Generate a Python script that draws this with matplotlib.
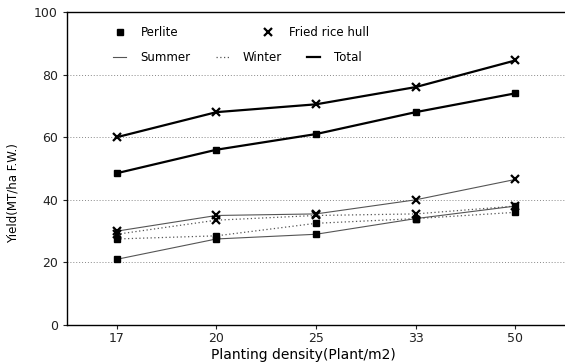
import numpy as np
import matplotlib
matplotlib.use("Agg")
import matplotlib.pyplot as plt
from matplotlib.lines import Line2D

# planting density categories
density = ["17", "20", "25", "33", "50"]

# yield (MT/ha F.W.)
frh_summer = [30, 35, 35.5, 40, 46.5]
frh_winter = [29, 33.5, 35, 35.5, 38]
frh_total = [60, 68, 70.5, 76, 84.5]
per_summer = [21, 27.5, 29, 34, 38]
per_winter = [27.5, 28.5, 32.5, 34, 36]
per_total = [48.5, 56, 61, 68, 74]

plt.rcParams["font.family"] = "DejaVu Sans"

fig = plt.figure(figsize=(5.65, 3.62), dpi=100)
ax = fig.add_axes([0.1186, 0.102, 0.8814, 0.865])
x = np.arange(1, len(density) + 1)

thin = dict(color="#555555", lw=0.8, ls="-")
dot = dict(color="#555555", lw=0.9, ls=(0, (1, 2)))
thick = dict(color="black", lw=1.6, ls="-")
sq = dict(marker="s", ms=5, mfc="black", mec="black")
xm = dict(marker="x", ms=6, mew=1.6, mec="black")

ax.plot(x, per_summer, **thin, **sq)
ax.plot(x, per_winter, **dot, **sq)
ax.plot(x, frh_summer, **thin, **xm)
ax.plot(x, frh_winter, **dot, **xm)
ax.plot(x, per_total, **thick, **sq)
ax.plot(x, frh_total, **thick, **xm)

ax.set_xlim(0.5, 5.5)
ax.set_ylim(0, 100)
ax.set_xticks(x)
ax.set_xticklabels(density)
ax.set_yticks(range(0, 101, 20))
for v in (20, 40, 60, 80):
    ax.axhline(v, color="#888888", lw=0.7, ls=(0, (1, 2)), zorder=0)

ax.spines["right"].set_visible(False)
for s in ("left", "bottom", "top"):
    ax.spines[s].set_linewidth(1.0)
ax.tick_params(labelsize=9, length=3, width=0.8, colors="#222222")
ax.tick_params(axis="x", pad=2)

ax.set_xlabel("Planting density(Plant/m2)", fontsize=10, va="center")
ax.xaxis.set_label_coords(0.475, -0.095)
ax.set_ylabel("Yield(MT/ha F.W.)", fontsize=8.5)
ax.yaxis.set_label_coords(-0.095, 0.42)

h1 = [Line2D([], [], ls="none", **sq), Line2D([], [], ls="none", **xm)]
leg1 = ax.legend(h1, ["Perlite", "Fried rice hull"], ncol=2, loc="upper left",
                 bbox_to_anchor=(0.07, 0.988), frameon=False, fontsize=8.5,
                 handlelength=1.2, columnspacing=7.0, handletextpad=1.2)
ax.add_artist(leg1)
h2 = [Line2D([], [], **thin), Line2D([], [], **dot), Line2D([], [], **thick)]
ax.legend(h2, ["Summer", "Winter", "Total"], ncol=3, loc="upper left",
          bbox_to_anchor=(0.072, 0.908), frameon=False, fontsize=8.5,
          handlelength=1.1, columnspacing=2.1, handletextpad=1.2)

fig.savefig("out.png", dpi=100)
